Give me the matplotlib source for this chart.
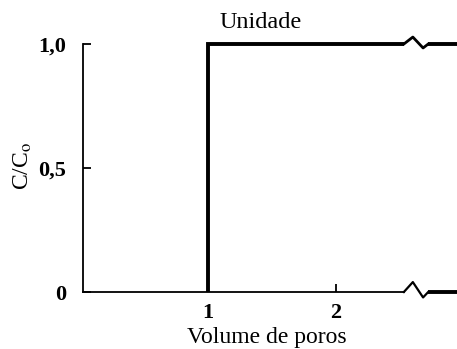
import matplotlib.pyplot as plt
import numpy as np

plt.rcParams["font.family"] = ["Liberation Serif", "DejaVu Serif"]
plt.rcParams["mathtext.fontset"] = "stix"

# Step response: C/Co vs pore volume
volume = [1.0, 1.0, 2.95]
conc = [0.0, 1.0, 1.0]

x_ticks = [1, 2]
x_tick_labels = ["1", "2"]
y_ticks = [0, 0.5, 1.0]
y_tick_labels = ["0", "0,5", "1,0"]

x_min, x_max = 0.023, 2.945
break_x = 2.53
# axis break zigzag shape (offsets from break_x)
zz_dx = np.array([0.0, 0.07, 0.15, 0.19])
zz_top_dy = np.array([0.0, 0.028, -0.016, 0.0])
zz_bot_dy = np.array([0.0, 0.04, -0.022, 0.0])

fig = plt.figure(figsize=(4.57, 3.49), dpi=100)
ax = fig.add_axes([83 / 457, 57 / 349, (457 - 83) / 457, 248 / 349])
ax.set_xlim(x_min, x_max)
ax.set_ylim(0, 1.0)

for side in ["top", "right", "bottom"]:
    ax.spines[side].set_visible(False)
ax.spines["left"].set_linewidth(1.3)
ax.spines["left"].set_bounds(0, 1.0)

# bottom axis with break
ax.plot([x_min, break_x], [0, 0], color="black", lw=1.3, clip_on=False, zorder=3)
ax.plot(break_x + zz_dx, zz_bot_dy, color="black", lw=1.6, clip_on=False, zorder=3)
ax.plot([break_x + zz_dx[-1], x_max], [0, 0], color="black", lw=2.8,
        clip_on=False, zorder=3, solid_capstyle="butt")

# data line, broken at the same place
pre_x = [v for v in volume if v <= break_x] + [break_x]
pre_y = conc[:len(pre_x) - 1] + [conc[-1]]
ax.plot(pre_x, pre_y, color="black", lw=2.8, clip_on=False, zorder=4,
        solid_joinstyle="miter", solid_capstyle="butt")
ax.plot(break_x + zz_dx, conc[-1] + zz_top_dy, color="black", lw=2.0,
        clip_on=False, zorder=4)
ax.plot([break_x + zz_dx[-1], volume[-1]], [conc[-1], conc[-1]], color="black",
        lw=2.8, clip_on=False, zorder=4, solid_capstyle="butt")

ax.set_xticks(x_ticks)
ax.set_xticklabels(x_tick_labels, fontsize=16, fontweight="bold")
ax.set_yticks(y_ticks)
ax.set_yticklabels(y_tick_labels, fontsize=16, fontweight="bold")
ax.tick_params(axis="x", direction="in", length=6, width=1.3, pad=8)
ax.tick_params(axis="y", direction="in", length=6, width=1.3, pad=12)

ax.set_xlabel("Volume de poros", fontsize=17, va="top")
ax.xaxis.set_label_coords(0.492, -0.14)
ax.set_ylabel("C/C$_\\mathrm{o}$", fontsize=17)
ax.yaxis.set_label_coords(-0.13, 0.51)
ax.text(1.41, 1.045, "Unidade", fontsize=17.5, ha="center", va="bottom")

fig.savefig("out.png", dpi=100)
